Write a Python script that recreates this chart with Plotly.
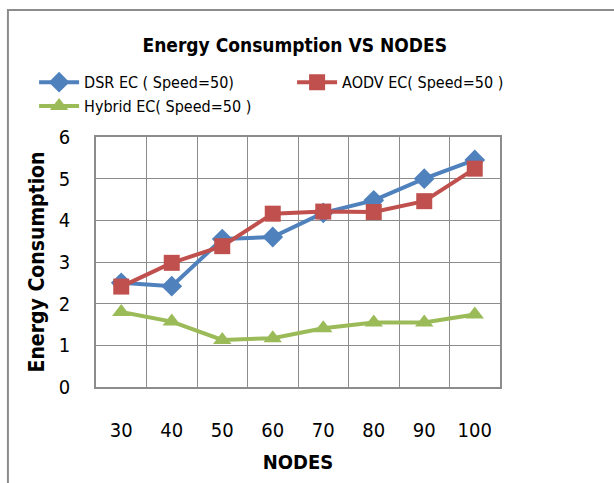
import plotly.graph_objects as go

nodes = ["30", "40", "50", "60", "70", "80", "90", "100"]
dsr = [2.5, 2.42, 3.55, 3.6, 4.18, 4.48, 5.0, 5.45]
aodv = [2.41, 2.98, 3.38, 4.16, 4.21, 4.2, 4.46, 5.24]
hybrid = [1.8, 1.57, 1.13, 1.17, 1.41, 1.55, 1.55, 1.74]

FONT = "DejaVu Sans Condensed, Liberation Sans, sans-serif"
GRID = "#8c8c8c"

fig = go.Figure()
fig.add_trace(go.Scatter(x=nodes, y=dsr, name="DSR EC ( Speed=50)", mode="lines+markers",
                         line=dict(color="#4F81BD", width=4),
                         marker=dict(symbol="diamond", size=16, color="#4F81BD")))
fig.add_trace(go.Scatter(x=nodes, y=aodv, name="AODV EC( Speed=50 )", mode="lines+markers",
                         line=dict(color="#C0504D", width=4),
                         marker=dict(symbol="square", size=16, color="#C0504D")))
fig.add_trace(go.Scatter(x=nodes, y=hybrid, name="Hybrid EC( Speed=50 )", mode="lines+markers",
                         line=dict(color="#9BBB59", width=4),
                         marker=dict(symbol="triangle-up", size=16, color="#9BBB59")))

fig.update_layout(
    width=614, height=483,
    margin=dict(l=96, r=114, t=137, b=96, autoexpand=False),
    paper_bgcolor="white", plot_bgcolor="white",
    font=dict(family=FONT, color="black", size=16),
    title=dict(text="<b>Energy Consumption VS NODES</b>", x=0.48, xanchor="center",
               y=0.907, yanchor="middle", font=dict(size=19, family=FONT)),
    showlegend=True,
    legend=dict(orientation="h", x=1.124, xanchor="right", y=1.287, yanchor="top",
                entrywidth=203, entrywidthmode="pixels", font=dict(size=16, family=FONT),
                tracegroupgap=0, itemwidth=40, bgcolor="rgba(0,0,0,0)"),
    xaxis=dict(type="category", tickson="boundaries", showgrid=True, gridcolor=GRID, gridwidth=1.3,
               showline=True, linecolor=GRID, linewidth=1.5, mirror=True, ticks="",
               tickfont=dict(size=20, family=FONT), ticklabelstandoff=24, automargin=False,
               title=dict(text="<b>NODES</b>", font=dict(size=20, family=FONT), standoff=14),
               range=[-0.5, 7.5]),
    yaxis=dict(range=[0, 6], dtick=1, showgrid=True, gridcolor=GRID, gridwidth=1.3,
               showline=True, linecolor=GRID, linewidth=1.5, mirror=True, ticks="",
               zeroline=False, tickfont=dict(size=20, family=FONT), ticklabelstandoff=20,
               automargin=False,
               title=dict(text="<b>Energy Consumption</b>", font=dict(size=21, family=FONT), standoff=8)),
)

fig.add_shape(type="rect", xref="paper", yref="paper", x0=-0.218, x1=1.5, y0=-0.5, y1=1.508,
              line=dict(color="#8c8c8c", width=2), fillcolor="rgba(0,0,0,0)", layer="below")

fig.write_html("out.html", config={"displayModeBar": False},
               post_script="document.body.style.margin='0';")
